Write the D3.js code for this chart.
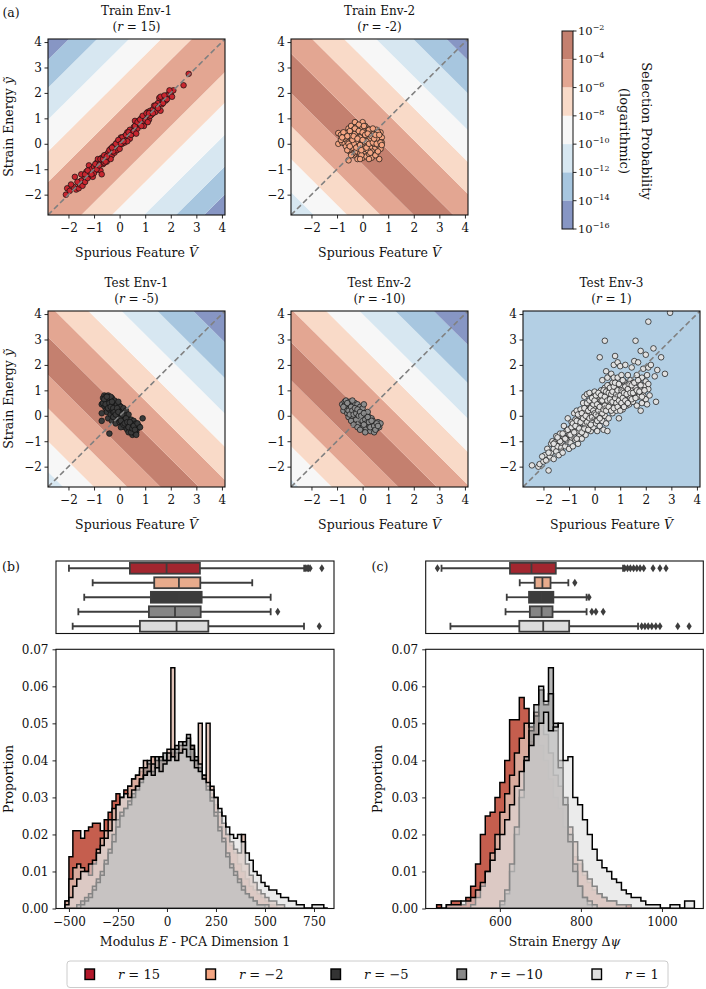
<!DOCTYPE html>
<html>
<head>
<meta charset="utf-8">
<script src="https://cdn.jsdelivr.net/npm/d3@7"></script>
<style>
  body { margin: 0; background: #fff; }
  text { font-family: "DejaVu Serif", serif; fill: #111; }
</style>
</head>
<body>
<div id="chart"></div>
<script>
// ---------- panel (a) data ----------
const envTitles = ['Train Env-1', 'Train Env-2', 'Test Env-1', 'Test Env-2', 'Test Env-3'];
const envR = ['15', '-2', '-5', '-10', '1'];
const axisTicks = [-2, -1, 0, 1, 2, 3, 4];
const probExponents = [-2, -4, -6, -8, -10, -12, -14, -16];
const probColors = ['#c4806f', '#e3a692', '#f9dac8', '#f7f7f7', '#d7e7f1', '#a7c6df', '#8796c4'];
const env3Color = '#b3cfe4';

// band boundaries: lines y = slope*x + offset, colour level of each band
const bandSlopes = [1, -1, -1, -1];
const bandOffsets = [
  [-6.1, -5.0, -3.75, -2.5, -1.3, 1.3, 2.5, 3.75, 5.0, 6.1],
  [-4.7, -3.4, -2.1, -0.8, 0.75, 2.15, 3.4, 4.65, 6.1, 7.4],
  [-5.0, -3.8, -2.5, -1.2, 0.3, 1.6, 2.9, 4.2, 5.6, 7.0],
  [-5.3, -4.0, -2.7, -1.4, 0.1, 1.4, 2.7, 4.0, 5.4, 6.9]
];
const bandLevels = [
  [6, 5, 4, 3, 2, 1, 2, 3, 4, 5, 6],
  [4, 3, 2, 1, 0, 1, 2, 3, 4, 5, 6],
  [4, 3, 2, 1, 0, 1, 2, 3, 4, 5, 6],
  [4, 3, 2, 1, 0, 1, 2, 3, 4, 5, 6]
];

const pointColors = ['#c8262f', '#f4a582', '#3a3a3a', '#8c8c8c', '#e0e0e0'];

const ptsTrain1 = [[-2.1,-2.0],[-2.05,-1.75],[-1.95,-1.85],[-1.8,-1.7],[-1.75,-1.3],[-1.7,-1.8],[-1.6,-1.75],[-1.55,-1.6],[-1.5,-1.45],[-1.45,-1.65],[-1.4,-1.25],[-1.35,-1.5],[-1.3,-1.1],[-1.25,-1.35],[-1.2,-0.85],[-1.15,-1.2],[-1.1,-1.0],[-1.05,-1.3],[-1.0,-0.9],[-0.95,-1.05],[-0.9,-0.75],[-0.85,-0.95],[-0.8,-0.7],[-0.75,-1.05],[-0.7,-0.55],[-0.7,-1.2],[-0.65,-0.8],[-0.6,-0.6],[-0.55,-0.45],[-0.5,-0.7],[-0.45,-0.35],[-0.45,-0.55],[-0.4,-0.5],[-0.35,-0.2],[-0.3,-0.45],[-0.3,-0.3],[-0.25,-0.1],[-0.2,-0.35],[-0.15,-0.15],[-0.1,0.05],[-0.1,-0.25],[-0.05,-0.05],[0.0,0.1],[0.0,-0.2],[0.05,0.25],[0.1,0.0],[0.15,0.2],[0.2,0.3],[0.2,0.05],[0.25,0.15],[0.3,0.45],[0.35,0.3],[0.4,0.2],[0.45,0.5],[0.5,0.4],[0.55,0.65],[0.6,0.5],[0.65,0.8],[0.7,0.6],[0.75,0.9],[0.8,0.75],[0.85,1.0],[0.9,0.85],[0.95,0.7],[1.0,1.1],[1.05,1.0],[1.1,1.25],[1.15,0.95],[1.2,1.3],[1.25,1.15],[1.3,1.35],[1.35,1.5],[1.4,1.25],[1.45,1.45],[1.5,1.6],[1.55,1.8],[1.6,1.3],[1.65,1.55],[1.7,1.75],[1.8,1.7],[1.9,1.95],[2.0,2.0],[2.05,1.85],[2.1,2.1],[2.5,2.3],[2.7,2.75],[0.6,0.9],[-0.2,-0.1],[0.1,0.25],[-0.6,-0.75],[-1.0,-1.15],[0.4,0.55],[0.85,0.7],[1.2,1.1],[-0.35,-0.6],[0.3,0.1],[-0.85,-0.6],[1.6,1.85],[1.0,0.95],
[-1.9,-1.6],[-1.65,-1.5],[-1.5,-1.2],[-1.35,-1.2],[-1.25,-1.05],[-1.1,-1.2],[-0.95,-0.8],[-0.9,-1.0],[-0.8,-0.85],[-0.75,-0.6],[-0.65,-0.6],[-0.6,-0.45],[-0.55,-0.7],[-0.5,-0.5],[-0.4,-0.25],[-0.25,-0.3],[-0.15,0.0],[-0.05,0.15],[0.05,0.0],[0.15,0.1],[0.25,0.35],[0.35,0.45],[0.45,0.35],[0.55,0.5],[0.6,0.7],[0.7,0.85],[0.8,0.95],[0.9,1.1],[1.05,1.2],[1.15,1.2],[1.3,1.2],[1.4,1.5],[1.5,1.4],[1.7,1.6],[1.85,1.75],[1.95,2.1],[1.75,1.9],[1.1,0.85],[0.65,0.4],[-0.3,-0.15]];

const ptsTrain2 = [[-0.95,0.42],[-0.95,0.0],[-0.85,0.35],[-0.8,0.05],[-0.75,0.3],[-0.7,0.0],[-0.65,-0.1],[-0.6,0.45],[-0.6,0.1],[-0.55,-0.65],[-0.55,0.6],[-0.5,0.25],[-0.5,-0.3],[-0.45,0.7],[-0.45,0.05],[-0.4,0.4],[-0.4,-0.15],[-0.35,0.55],[-0.35,-0.45],[-0.3,0.85],[-0.3,0.2],[-0.3,-0.05],[-0.25,0.65],[-0.25,-0.3],[-0.2,0.45],[-0.2,0.05],[-0.2,-0.6],[-0.15,0.3],[-0.15,-0.2],[-0.1,0.6],[-0.1,-0.4],[-0.05,0.15],[-0.05,0.4],[0.0,0.85],[0.0,-0.1],[0.0,-0.55],[0.05,0.5],[0.05,0.25],[0.1,-0.3],[0.1,0.05],[0.15,0.35],[0.15,-0.5],[0.2,0.6],[0.2,-0.05],[0.25,0.2],[0.25,-0.4],[0.3,0.45],[0.3,-0.15],[0.35,0.05],[0.35,0.5],[0.4,-0.3],[0.4,0.25],[0.45,-0.45],[0.45,0.4],[0.5,0.1],[0.5,-0.15],[0.55,0.55],[0.55,-0.35],[0.6,0.3],[0.6,-0.05],[0.65,0.15],[0.65,-0.6],[0.7,0.45],[0.7,-0.2],[0.75,0.25],[0.75,0.05],[-0.5,0.5],[-0.7,0.2],[-0.3,0.4],[-0.1,0.25],[0.1,0.7],[0.3,0.2],[-0.4,-0.4],[0.2,-0.25],[0.45,0.0],[-0.25,0.1],[0.05,-0.2],[-0.6,-0.25],[0.35,-0.55],[0.6,0.45],[-0.15,0.75],[0.25,0.55],[-0.45,0.3],[-0.05,-0.45],[0.55,0.2],[0.15,0.1],[-0.35,0.0],[0.4,0.6],[0.5,-0.45],[-0.2,0.55],
[-0.85,0.15],[-0.75,0.45],[-0.65,0.25],[-0.55,0.0],[-0.5,-0.1],[-0.45,-0.45],[-0.4,0.15],[-0.35,0.3],[-0.3,0.6],[-0.25,-0.15],[-0.2,0.2],[-0.15,0.5],[-0.1,-0.05],[-0.05,-0.25],[0.0,0.45],[0.0,0.15],[0.05,0.7],[0.1,0.35],[0.15,-0.15],[0.2,0.4],[0.25,0.0],[0.3,-0.35],[0.35,0.3],[0.4,0.05],[0.45,0.2],[0.5,0.35],[0.55,0.0],[0.6,-0.3],[0.65,0.35],[0.7,0.05],[-0.6,0.3],[-0.8,0.25],[0.25,-0.6],[-0.1,-0.6],[0.75,-0.05]];

const ptsTest1 = [[-0.7,0.45],[-0.7,-0.2],[-0.65,0.7],[-0.6,0.8],[-0.6,0.55],[-0.55,0.75],[-0.55,0.3],[-0.5,0.6],[-0.5,0.15],[-0.45,0.8],[-0.45,0.45],[-0.45,-0.1],[-0.4,0.65],[-0.4,0.25],[-0.4,-0.7],[-0.35,0.5],[-0.35,0.05],[-0.3,0.7],[-0.3,0.35],[-0.3,-0.2],[-0.25,0.5],[-0.25,0.15],[-0.2,0.3],[-0.2,-0.05],[-0.2,0.6],[-0.15,0.4],[-0.15,-0.3],[-0.1,0.2],[-0.1,0.45],[-0.1,-0.1],[-0.05,0.3],[-0.05,0.0],[0.0,0.4],[0.0,-0.25],[0.05,0.1],[0.05,0.35],[0.1,-0.1],[0.1,0.2],[0.1,-0.35],[0.15,0.3],[0.15,-0.2],[0.2,0.0],[0.2,-0.45],[0.25,0.2],[0.25,-0.3],[0.3,-0.1],[0.3,-0.55],[0.35,-0.25],[0.35,0.05],[0.4,-0.4],[0.4,-0.6],[0.45,-0.15],[0.45,-0.5],[0.5,-0.35],[0.5,-0.75],[0.55,-0.55],[0.55,-0.2],[0.6,-0.45],[0.65,-0.3],[0.65,-0.65],[0.7,-0.5],[0.75,-0.4],[0.9,-0.1],[-0.6,0.4],[-0.35,0.75],[0.0,0.15],[0.2,-0.15],[-0.25,-0.05],[0.3,-0.35],[0.45,-0.3],[-0.05,0.55],[0.15,0.05],[0.05,-0.45],[0.6,-0.7],[0.35,-0.65],[-0.5,0.4],
[-0.65,0.5],[-0.6,0.65],[-0.55,0.45],[-0.5,0.75],[-0.45,0.3],[-0.4,0.5],[-0.35,0.35],[-0.3,0.55],[-0.25,0.3],[-0.2,0.15],[-0.15,0.05],[-0.1,0.3],[-0.05,0.15],[0.0,-0.1],[0.05,-0.2],[0.1,0.05],[0.15,-0.35],[0.2,-0.3],[0.25,-0.1],[0.3,-0.25],[0.35,-0.45],[0.4,-0.25],[0.45,-0.65],[0.5,-0.5],[0.55,-0.4],[0.6,-0.55],[0.7,-0.3],[0.8,-0.45],[-0.7,0.1],[0.65,-0.75]];

const ptsTest2 = [[-0.8,0.45],[-0.75,0.2],[-0.7,0.55],[-0.65,0.35],[-0.65,0.6],[-0.6,0.1],[-0.55,0.45],[-0.55,-0.05],[-0.5,0.3],[-0.5,0.55],[-0.45,0.15],[-0.45,-0.2],[-0.4,0.4],[-0.4,0.0],[-0.35,0.25],[-0.35,-0.35],[-0.3,0.5],[-0.3,0.1],[-0.25,-0.15],[-0.25,0.3],[-0.2,0.05],[-0.2,0.45],[-0.15,-0.3],[-0.15,0.2],[-0.1,0.0],[-0.1,0.35],[-0.05,-0.2],[-0.05,0.15],[0.0,-0.45],[0.0,0.05],[0.0,0.3],[0.05,-0.1],[0.1,-0.3],[0.1,0.1],[0.15,-0.5],[0.15,-0.05],[0.2,-0.2],[0.2,0.15],[0.25,-0.4],[0.25,-0.05],[0.3,-0.6],[0.3,-0.25],[0.35,-0.1],[0.4,-0.45],[0.4,-0.2],[0.45,-0.65],[0.5,-0.35],[0.55,-0.5],[0.6,-0.25],[0.65,-0.45],[0.7,-0.3],[-0.6,0.25],[-0.2,-0.45],[0.05,0.45],[-0.4,0.6],[0.35,-0.35],[0.1,-0.65],[-0.1,-0.55],
[-0.7,0.4],[-0.6,0.5],[-0.55,0.2],[-0.5,0.05],[-0.45,0.35],[-0.4,0.2],[-0.35,0.05],[-0.3,0.3],[-0.25,0.1],[-0.2,0.25],[-0.15,0.0],[-0.1,0.15],[-0.05,0.0],[0.0,-0.2],[0.05,0.1],[0.1,-0.15],[0.15,-0.3],[0.2,-0.05],[0.25,-0.25],[0.3,-0.45],[0.35,-0.2],[0.45,-0.4],[0.5,-0.55],[0.55,-0.3],[0.6,-0.4],[-0.75,0.35],[0.05,-0.35]];

const ptsTest3 = [[-2.45,-1.95],[-2.2,-2.0],[-2.15,-1.9],[-2.0,-1.8],[-1.95,-1.55],[-1.9,-1.75],[-1.85,-1.3],[-1.8,-2.15],[-1.75,-1.6],[-1.7,-1.1],[-1.7,-1.45],[-1.65,-1.0],[-1.6,-1.3],[-1.6,-1.7],[-1.55,-1.05],[-1.5,-1.4],[-1.5,-0.8],
[-1.45,-1.2],[-1.4,-1.55],[-1.4,-0.95],[-1.35,-0.7],[-1.3,-1.25],[-1.3,-1.05],[-1.25,-1.45],[-1.2,-0.85],[-1.2,-0.4],[-1.15,-1.2],[-1.1,-0.6],[-1.1,-0.95],[-1.05,-0.1],[-1.0,-1.3],[-1.0,-0.75],[-0.95,-0.5],[-0.95,-1.05],[-0.9,-0.25],[-0.9,-0.85],[-0.85,-1.2],[-0.85,-0.6],[-0.8,0.1],[-0.8,-0.4],[-0.75,-0.95],[-0.75,-0.15],[-0.7,0.2],[-0.7,-0.65],[-0.65,-0.35],[-0.65,-1.1],[-0.6,0.0],[-0.6,-0.8],[-0.55,0.25],[-0.55,-0.5],[-0.5,-0.2],[-0.5,-0.9],
[-0.45,0.5],[-0.45,0.1],[-0.45,-0.6],[-0.4,-0.3],[-0.4,0.75],[-0.35,0.2],[-0.35,-0.75],[-0.3,0.85],[-0.3,-0.05],[-0.3,-0.45],[-0.25,0.45],[-0.25,0.0],[-0.2,0.9],[-0.2,-0.3],[-0.2,0.25],[-0.15,0.6],[-0.15,-0.6],[-0.1,0.1],[-0.1,0.4],[-0.1,-0.2],[-0.05,0.75],[-0.05,-0.45],[0.0,0.3],[0.0,-0.1],[0.0,0.95],[0.05,0.55],[0.05,-0.3],[0.1,0.15],[0.1,-0.6],[0.1,0.8],[0.15,0.4],[0.15,-0.05],[0.2,2.3],[0.2,0.65],[0.2,-0.4],[0.25,0.1],[0.25,1.0],[0.3,0.35],[0.3,-0.2],[0.3,1.4],[0.35,0.75],[0.35,-0.55],[0.4,2.95],[0.4,0.0],[0.4,1.1],[0.45,0.5],[0.45,1.75],[0.45,-0.3],[0.5,0.25],[0.5,1.5],[0.5,0.85],[0.5,-0.6],
[0.55,0.6],[0.55,1.2],[0.55,-0.1],[0.6,0.95],[0.6,0.3],[0.65,1.65],[0.65,0.5],[0.7,0.1],[0.7,1.3],[0.75,0.75],[0.75,1.5],[0.75,2.0],[0.8,0.4],[0.8,2.35],[0.85,1.05],[0.85,0.2],[0.9,0.65],[0.9,1.5],[0.9,2.1],[0.95,0.9],[0.95,-0.1],[1.0,0.45],[1.0,1.2],[1.0,1.95],[1.05,0.75],[1.05,1.6],[1.1,0.25],[1.1,1.0],[1.15,1.35],[1.15,0.6],[1.2,0.95],[1.2,2.0],[1.25,0.4],[1.25,1.2],[1.3,0.8],[1.3,1.6],[1.35,1.05],[1.35,0.45],[1.4,1.4],[1.4,0.7],[1.45,1.9],[1.45,1.0],[1.5,0.55],[1.5,1.3],
[1.55,2.15],[1.55,0.85],[1.6,2.95],[1.6,1.1],[1.65,0.4],[1.65,1.6],[1.7,0.75],[1.7,2.1],[1.75,1.3],[1.8,0.2],[1.8,2.55],[1.8,1.0],[1.85,1.5],[1.85,0.5],[1.9,1.85],[1.9,0.8],[1.95,1.2],[2.0,2.4],[2.0,0.65],[2.05,1.6],[2.05,0.45],[2.1,3.7],[2.1,1.05],[2.1,1.9],[2.15,0.8],[2.2,2.0],[2.3,2.65],[2.35,1.55],[2.4,0.55],[2.45,1.8],[2.6,2.3],[2.75,1.65],[2.95,4.05],
[-1.35,-1.0],[-1.25,-0.7],[-1.15,-0.9],[-1.05,-0.55],[-0.95,-0.75],[-0.9,-0.45],[-0.85,-0.3],[-0.8,-0.65],[-0.75,-0.4],[-0.7,-0.2],[-0.7,-0.9],[-0.65,0.05],[-0.6,-0.5],[-0.55,-0.25],[-0.5,0.1],[-0.5,-0.65],[-0.45,-0.1],[-0.4,0.3],[-0.4,-0.5],[-0.35,0.0],[-0.3,0.5],[-0.3,-0.25],[-0.25,0.2],[-0.25,-0.55],[-0.2,0.6],[-0.2,-0.1],[-0.15,0.3],[-0.15,-0.35],[-0.1,0.7],[-0.1,-0.05],[-0.05,0.45],[-0.05,0.2],[0.0,0.6],[0.0,0.1],[0.05,0.8],[0.05,0.05],[0.1,0.45],[0.1,-0.2],[0.15,0.9],[0.15,0.2],[0.2,0.35],[0.2,-0.1],[0.25,0.6],[0.25,0.8],[0.3,0.1],[0.3,0.6],[0.35,0.25],[0.35,1.0],[0.4,0.4],[0.4,0.75],[0.45,0.2],[0.45,0.95],[0.5,0.6],[0.5,1.2],[0.55,0.35],[0.55,0.9],[0.6,0.65],[0.6,1.1],[0.65,0.2],[0.65,0.85],[0.7,0.55],[0.7,0.95],[0.75,0.3],[0.75,1.15],[0.8,0.7],[0.8,1.3],[0.85,0.5],[0.85,0.85],[0.9,0.35],[0.9,1.0],[0.95,0.6],[0.95,1.25],[1.0,0.8],[1.0,0.2],[1.05,1.0],[1.05,0.5],[1.1,0.7],[1.1,1.4],[1.15,0.9],[1.15,0.35],[1.2,1.15],[1.2,0.6],[1.25,0.85],[1.3,1.05],[1.3,0.5],[1.35,1.25],[1.4,0.9],[1.45,0.65],[1.45,1.2],[1.5,0.9],[1.55,1.3],[1.6,0.7],[1.65,1.0],[1.7,1.4],[1.75,0.95],[1.8,1.2],[1.85,0.75],[1.95,1.0],[2.0,1.35],[2.1,1.25],[-1.6,-1.1],[-1.45,-0.85],[-1.8,-1.45],[-2.05,-1.6]];

const envPoints = [ptsTrain1, ptsTrain2, ptsTest1, ptsTest2, ptsTest3];

// ---------- panels (b) and (c) data ----------
const seriesLabels = ['15', '\u22122', '\u22125', '\u221210', '1'];
const seriesColors = ['#b2182b', '#f4a582', '#333333', '#888888', '#e0e0e0'];
const boxFill = ['#a2262f', '#e8ab8c', '#3b3b3b', '#858585', '#dcdcdc'];
const histFill = ['#c0503f', '#dcb8ab', '#7a7a7a', '#a5a5a5', '#dedede'];
const histOpacity = [0.92, 0.85, 0.55, 0.55, 0.6];

const binStartB = -520, binWidthB = 20;
const histB15 = [0.002,0.014,0.021,0.021,0.019,0.021,0.022,0.023,0.023,0.021,0.024,0.026,0.029,0.031,0.030,0.032,0.033,0.035,0.036,0.037,0.038,0.039,0.041,0.038,0.040,0.040,0.041,0.042,0.040,0.043,0.041,0.040,0.042,0.039,0.037,0.035,0.034,0.031,0.028,0.025,0.022,0.020,0.017,0.015,0.012,0.010,0.008,0.006,0.005,0.004,0.003,0.002,0.001,0.001,0,0,0,0,0,0,0,0,0,0,0,0,0];
const histBm2 = [0.002,0.008,0.011,0.012,0.011,0.010,0.009,0.012,0.016,0.019,0.021,0.024,0.027,0.028,0.030,0.031,0.033,0.035,0.036,0.038,0.040,0.039,0.041,0.040,0.041,0.040,0.043,0.065,0.042,0.044,0.043,0.041,0.044,0.040,0.050,0.036,0.050,0.033,0.030,0.026,0.023,0.020,0.018,0.016,0.015,0.020,0.012,0.009,0.007,0.005,0.004,0.003,0.002,0.002,0.001,0.001,0,0,0,0,0,0,0,0,0,0,0];
const histBm5 = [0,0,0,0.001,0.002,0.003,0.004,0.006,0.008,0.010,0.013,0.016,0.020,0.024,0.026,0.027,0.029,0.031,0.033,0.035,0.038,0.040,0.037,0.041,0.040,0.042,0.040,0.043,0.044,0.042,0.045,0.047,0.044,0.041,0.038,0.036,0.033,0.030,0.026,0.022,0.019,0.015,0.012,0.010,0.008,0.006,0.004,0.003,0.002,0.001,0.001,0,0,0,0,0,0,0,0,0,0,0,0,0,0,0,0];
const histBm10 = [0,0,0,0,0.001,0.002,0.003,0.005,0.007,0.009,0.012,0.015,0.018,0.022,0.025,0.027,0.028,0.030,0.032,0.034,0.036,0.037,0.039,0.038,0.041,0.040,0.042,0.041,0.043,0.045,0.044,0.046,0.043,0.040,0.039,0.035,0.032,0.029,0.025,0.021,0.018,0.014,0.011,0.009,0.007,0.005,0.004,0.003,0.002,0.001,0.001,0.001,0,0,0,0,0,0,0,0,0,0,0,0,0,0,0];
const histB1 = [0.001,0.003,0.006,0.008,0.010,0.010,0.012,0.013,0.015,0.017,0.019,0.021,0.024,0.028,0.030,0.031,0.030,0.032,0.033,0.035,0.036,0.037,0.036,0.038,0.037,0.039,0.040,0.041,0.040,0.042,0.043,0.041,0.040,0.038,0.037,0.035,0.034,0.032,0.030,0.027,0.025,0.022,0.020,0.019,0.020,0.018,0.015,0.013,0.010,0.009,0.007,0.006,0.005,0.005,0.004,0.003,0.003,0.002,0.002,0.001,0.001,0,0,0.001,0.001,0.001,0];

const binStartC = 444, binWidthC = 12;
const histC15 = [0.001,0,0.001,0.002,0.002,0.001,0.003,0.006,0.012,0.020,0.025,0.026,0.030,0.034,0.040,0.051,0.051,0.057,0.054,0.045,0.052,0.044,0.040,0.035,0.030,0.027,0.022,0.018,0.014,0.012,0.009,0.007,0.005,0.004,0.003,0.002,0.002,0.001,0.001,0.001,0,0,0,0,0,0,0,0,0,0,0,0,0];
const histCm2 = [0,0,0,0,0,0,0,0.001,0.003,0.006,0.010,0.015,0.020,0.026,0.031,0.036,0.042,0.046,0.050,0.049,0.053,0.050,0.047,0.042,0.036,0.033,0.028,0.022,0.018,0.013,0.010,0.008,0.006,0.004,0.003,0.002,0.002,0.001,0.001,0,0,0,0,0,0,0,0,0,0,0,0,0,0];
const histCm5 = [0,0,0,0,0,0,0,0,0,0,0,0,0,0.001,0.004,0.010,0.020,0.030,0.040,0.048,0.052,0.059,0.055,0.065,0.050,0.040,0.030,0.020,0.012,0.006,0.003,0.001,0,0,0,0,0,0,0,0,0,0,0,0,0,0,0,0,0,0,0,0,0];
const histCm10 = [0,0,0,0,0,0,0,0,0,0,0,0,0,0.002,0.005,0.012,0.022,0.032,0.041,0.050,0.055,0.060,0.056,0.058,0.048,0.038,0.028,0.018,0.010,0.006,0.003,0.002,0.001,0,0,0,0,0,0,0,0,0,0,0,0,0,0,0,0,0,0,0,0];
const histC1 = [0,0,0.001,0.001,0.001,0.002,0.002,0.003,0.005,0.007,0.010,0.013,0.016,0.020,0.024,0.028,0.033,0.037,0.040,0.044,0.047,0.050,0.053,0.048,0.049,0.050,0.040,0.041,0.030,0.028,0.024,0.020,0.016,0.013,0.011,0.010,0.008,0.007,0.005,0.004,0.003,0.003,0.002,0.001,0.001,0.001,0,0,0.001,0.001,0,0.002,0.002];

// box stats: [whisker low, q1, median, q3, whisker high]
const boxB = [[-500,-189,-2,168,700],[-379,-65,61,170,435],[-422,-82,61,177,529],[-452,-92,41,172,529],[-481,-138,49,211,699]];
const fliersB = [[708,715,722,730,790],[],[],[565],[777]];
const boxC = [[456,625,678,738,904],[649,686,705,725,769],[617,672,703,732,814],[614,674,703,730,814],[478,648,707,771,941]];
const fliersC = [[446,908,915,922,930,938,946,955,978,995,1010],[785],[820],[827,837,855],[950,958,966,975,985,995,1039,1067]];

const histTicksY = [0, 0.01, 0.02, 0.03, 0.04, 0.05, 0.06, 0.07];
const histTicksB = [-500, -250, 0, 250, 500, 750];
const histTicksC = [600, 800, 1000];

// ---------- layout ----------
const width = 706, height = 989;
const svg = d3.select('#chart').append('svg').attr('width', width).attr('height', height);
const defs = svg.append('defs');

const pw = 177, ph = 176;
const panelX = [48, 291, 48, 291, 523];
const panelY = [39, 39, 311, 311, 311];
const lim = [-2.8, 4.12];
const xA = d3.scaleLinear().domain(lim).range([0, pw]);
const yA = d3.scaleLinear().domain(lim).range([ph, 0]);
const intFmt = d3.format('d');

function styleAxis(g, size) {
  g.attr('font-family', '"DejaVu Serif", serif').attr('font-size', size);
  g.select('.domain').remove();
  g.selectAll('.tick line').attr('stroke', '#111').attr('stroke-width', 0.9);
  g.selectAll('.tick text').attr('fill', '#111');
}

envTitles.forEach((title, i) => {
  const g = svg.append('g').attr('transform', `translate(${panelX[i]},${panelY[i]})`);
  defs.append('clipPath').attr('id', 'clip' + i)
    .append('rect').attr('width', pw).attr('height', ph);
  const body = g.append('g').attr('clip-path', `url(#clip${i})`);

  if (i < 4) {
    const m = bandSlopes[i];
    const edges = [-40, ...bandOffsets[i], 40];
    const poly = d3.line().x(d => xA(d[0])).y(d => yA(d[1]));
    bandLevels[i].forEach((lev, k) => {
      const lo = edges[k], hi = edges[k + 1];
      body.append('path')
        .attr('d', poly([[-12, -12 * m + lo], [12, 12 * m + lo], [12, 12 * m + hi], [-12, -12 * m + hi]]) + 'Z')
        .attr('fill', probColors[lev]);
    });
  } else {
    body.append('rect').attr('width', pw).attr('height', ph).attr('fill', env3Color);
  }

  body.selectAll('circle')
    .data(envPoints[i])
    .join('circle')
    .attr('cx', d => xA(d[0]))
    .attr('cy', d => yA(d[1]))
    .attr('r', 2.8)
    .attr('fill', pointColors[i])
    .attr('stroke', '#111')
    .attr('stroke-width', 0.7);

  body.append('line')
    .attr('x1', xA(lim[0])).attr('y1', yA(lim[0]))
    .attr('x2', xA(lim[1])).attr('y2', yA(lim[1]))
    .attr('stroke', '#808080').attr('stroke-width', 1.6)
    .attr('stroke-dasharray', '5.5,3');

  g.append('rect').attr('width', pw).attr('height', ph)
    .attr('fill', 'none').attr('stroke', '#111').attr('stroke-width', 1.1);

  g.append('g').attr('transform', `translate(0,${ph})`)
    .call(d3.axisBottom(xA).tickValues(axisTicks).tickFormat(intFmt).tickSize(3.5).tickPadding(5))
    .call(styleAxis, 12);
  g.append('g')
    .call(d3.axisLeft(yA).tickValues(axisTicks).tickFormat(intFmt).tickSize(3.5).tickPadding(2.5))
    .call(styleAxis, 12);

  g.append('text').attr('x', pw / 2).attr('y', -24)
    .attr('text-anchor', 'middle').attr('font-size', 12).text(title);
  const t2 = g.append('text').attr('x', pw / 2).attr('y', -8)
    .attr('text-anchor', 'middle').attr('font-size', 12);
  t2.append('tspan').text('(');
  t2.append('tspan').attr('font-style', 'italic').text('r');
  t2.append('tspan').text(' = ' + envR[i] + ')');

  const xl = g.append('text').attr('x', pw / 2).attr('y', ph + 42)
    .attr('text-anchor', 'middle').attr('font-size', 12.5);
  xl.append('tspan').text('Spurious Feature ');
  xl.append('tspan').attr('font-style', 'italic').text('\u1E7C');

  if (panelX[i] === 48) {
    const yl = g.append('text')
      .attr('transform', `translate(${13 - panelX[i]},${ph / 2}) rotate(-90)`)
      .attr('text-anchor', 'middle').attr('font-size', 12.5);
    yl.append('tspan').text('Strain Energy ');
    yl.append('tspan').attr('font-style', 'italic').text('\u1EF9');
  }
});

// colorbar
const cbX = 562, cbW = 11;
const cbY = d3.scaleLinear().domain([-16, -2]).range([229, 31]);
const cb = svg.append('g');
probColors.forEach((c, k) => {
  const top = probExponents[k], bottom = probExponents[k + 1];
  cb.append('rect').attr('x', cbX).attr('y', cbY(top))
    .attr('width', cbW).attr('height', cbY(bottom) - cbY(top)).attr('fill', c);
});
cb.append('rect').attr('x', cbX).attr('y', cbY(-2)).attr('width', cbW)
  .attr('height', cbY(-16) - cbY(-2)).attr('fill', 'none').attr('stroke', '#111').attr('stroke-width', 1);
probExponents.forEach(e => {
  cb.append('line').attr('x1', cbX + cbW).attr('x2', cbX + cbW + 3.5)
    .attr('y1', cbY(e)).attr('y2', cbY(e)).attr('stroke', '#111').attr('stroke-width', 0.9);
  const t = cb.append('text').attr('x', cbX + cbW + 5).attr('y', cbY(e) + 4).attr('font-size', 11.5);
  t.append('tspan').text('10');
  t.append('tspan').attr('dy', -5).attr('font-size', 8).text('\u2212' + Math.abs(e));
});
cb.append('text').attr('transform', 'translate(642,131) rotate(90)')
  .attr('text-anchor', 'middle').attr('font-size', 13).text('Selection Probability');
cb.append('text').attr('transform', 'translate(620,131) rotate(90)')
  .attr('text-anchor', 'middle').attr('font-size', 13).text('(logarithmic)');

svg.append('text').attr('x', 11).attr('y', 17).attr('text-anchor', 'middle').attr('font-size', 12.5).text('(a)');

// ---------- histogram panels ----------
const yH = d3.scaleLinear().domain([0, 0.07]).range([908.5, 649.3]);
const boxRow = d3.scaleBand().domain(d3.range(5)).range([561, 633.5]).paddingInner(0.25).paddingOuter(0.125);

function drawHistPanel(xs, hists, binStart, binWidth, boxes, fliers, ticks, tag, tagX, ylabX, labelParts) {
  const [x0, x1] = xs.range();
  const g = svg.append('g');

  // boxplot strip
  g.append('rect').attr('x', x0).attr('y', 561).attr('width', x1 - x0).attr('height', 72.5)
    .attr('fill', 'none').attr('stroke', '#111').attr('stroke-width', 1.1);
  boxes.forEach((b, i) => {
    const top = boxRow(i), bw = boxRow.bandwidth(), cy = top + bw / 2;
    const bg = g.append('g').attr('stroke', '#3d3d3d').attr('stroke-width', 1.8);
    bg.append('line').attr('x1', xs(b[0])).attr('x2', xs(b[1])).attr('y1', cy).attr('y2', cy);
    bg.append('line').attr('x1', xs(b[3])).attr('x2', xs(b[4])).attr('y1', cy).attr('y2', cy);
    [b[0], b[4]].forEach(v => bg.append('line').attr('x1', xs(v)).attr('x2', xs(v))
      .attr('y1', cy - 3.5).attr('y2', cy + 3.5));
    bg.append('rect').attr('x', xs(b[1])).attr('y', top)
      .attr('width', xs(b[3]) - xs(b[1])).attr('height', bw).attr('fill', boxFill[i]);
    bg.append('line').attr('x1', xs(b[2])).attr('x2', xs(b[2])).attr('y1', top).attr('y2', top + bw);
    g.selectAll(null).data(fliers[i]).join('path')
      .attr('d', 'M0,-4L2.6,0L0,4L-2.6,0Z')
      .attr('transform', d => `translate(${xs(d)},${cy})`)
      .attr('fill', '#3d3d3d');
  });

  // histograms
  defs.append('clipPath').attr('id', 'hclip' + tag)
    .append('rect').attr('x', x0).attr('y', 649.3).attr('width', x1 - x0).attr('height', 908.5 - 649.3);
  const hg = g.append('g').attr('clip-path', `url(#hclip${tag})`);
  const area = d3.area().curve(d3.curveStepAfter)
    .x(d => xs(d[0])).y0(yH(0)).y1(d => yH(d[1]));
  hists.forEach((vals, i) => {
    const pts = vals.map((v, k) => [binStart + k * binWidth, v]);
    pts.push([binStart + vals.length * binWidth, vals[vals.length - 1]]);
    hg.append('path').attr('d', area(pts))
      .attr('fill', histFill[i]).attr('fill-opacity', histOpacity[i])
      .attr('stroke', '#000').attr('stroke-width', 1.5).attr('stroke-linejoin', 'miter');
  });
  g.append('rect').attr('x', x0).attr('y', 649.3).attr('width', x1 - x0).attr('height', 908.5 - 649.3)
    .attr('fill', 'none').attr('stroke', '#111').attr('stroke-width', 1.1);

  g.append('g').attr('transform', 'translate(0,908.5)')
    .call(d3.axisBottom(xs).tickValues(ticks).tickFormat(intFmt).tickSize(3.5).tickPadding(5))
    .call(styleAxis, 12);
  g.append('g').attr('transform', `translate(${x0},0)`)
    .call(d3.axisLeft(yH).tickValues(histTicksY).tickFormat(d3.format('.2f')).tickSize(3.5).tickPadding(4))
    .call(styleAxis, 12);

  const xl = g.append('text').attr('x', (x0 + x1) / 2).attr('y', 946)
    .attr('text-anchor', 'middle').attr('font-size', 12.5);
  labelParts.forEach(p => xl.append('tspan').attr('font-style', p[1] ? 'italic' : null).text(p[0]));

  g.append('text').attr('transform', `translate(${ylabX},${(649.3 + 908.5) / 2}) rotate(-90)`)
    .attr('text-anchor', 'middle').attr('font-size', 12.5).text('Proportion');
  g.append('text').attr('x', tagX).attr('y', 571)
    .attr('text-anchor', 'middle').attr('font-size', 12.5).text('(' + tag + ')');
}

const xB = d3.scaleLinear().domain([-566, 852]).range([56, 334]);
const xC = d3.scaleLinear().domain([417, 1102]).range([425.7, 703.3]);

drawHistPanel(xB, [histB15, histBm2, histBm5, histBm10, histB1], binStartB, binWidthB,
  boxB, fliersB, histTicksB, 'b', 11, 13, [['Modulus '], ['E', true], [' - PCA Dimension 1']]);
drawHistPanel(xC, [histC15, histCm2, histCm5, histCm10, histC1], binStartC, binWidthC,
  boxC, fliersC, histTicksC, 'c', 380, 382, [['Strain Energy \u0394'], ['\u03C8', true]]);

// ---------- legend ----------
const legendX = [85, 206, 331, 457, 592];
const lg = svg.append('g');
lg.append('rect').attr('x', 67).attr('y', 961).attr('width', 601).attr('height', 26.5)
  .attr('rx', 3).attr('fill', '#fff').attr('stroke', '#cccccc').attr('stroke-width', 1);
seriesLabels.forEach((lab, i) => {
  lg.append('rect').attr('x', legendX[i]).attr('y', 969).attr('width', 9.5).attr('height', 10.5)
    .attr('fill', seriesColors[i]).attr('stroke', '#000').attr('stroke-width', 1.4);
  const t = lg.append('text').attr('x', legendX[i] + 33).attr('y', 979).attr('font-size', 13);
  t.append('tspan').attr('font-style', 'italic').text('r');
  t.append('tspan').text(' = ' + lab);
});
</script>
</body>
</html>
